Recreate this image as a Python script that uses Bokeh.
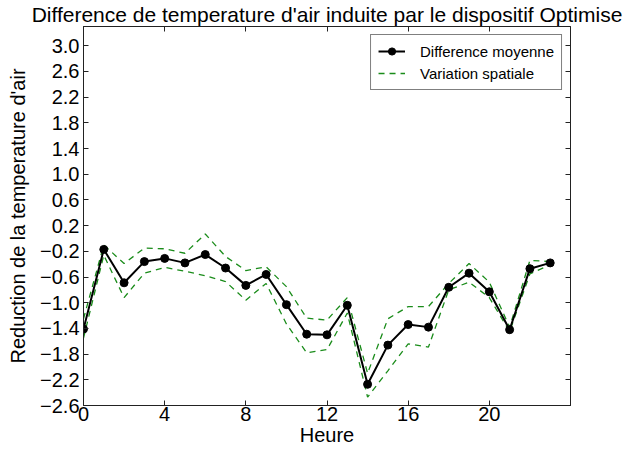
from bokeh.plotting import figure
from bokeh.models import (Range1d, LinearAxis, FixedTicker, CustomJSTickFormatter,
                          Legend, LegendItem, ColumnDataSource)
from bokeh.embed import file_html
from bokeh.resources import INLINE

hours = list(range(24))
moyenne = [-1.41, -0.17, -0.69, -0.36, -0.31, -0.38, -0.25, -0.46, -0.73, -0.56,
           -1.03, -1.49, -1.50, -1.04, -2.27, -1.66, -1.34, -1.38, -0.76, -0.54,
           -0.83, -1.42, -0.47, -0.38]
upper = [-1.25, -0.10, -0.39, -0.15, -0.16, -0.23, 0.07, -0.28, -0.50, -0.44,
         -0.75, -1.24, -1.27, -0.92, -2.10, -1.25, -1.06, -1.06, -0.70, -0.39,
         -0.68, -1.38, -0.34, -0.36]
lower = [-1.55, -0.26, -0.92, -0.54, -0.45, -0.51, -0.58, -0.67, -0.96, -0.70,
         -1.33, -1.78, -1.73, -1.16, -2.47, -2.06, -1.64, -1.69, -0.80, -0.68,
         -0.92, -1.45, -0.55, -0.41]
x_ticks = [0, 4, 8, 12, 16, 20]
y_ticks = [-2.6, -2.2, -1.8, -1.4, -1.0, -0.6, -0.2, 0.2, 0.6, 1.0, 1.4, 1.8, 2.2, 2.6, 3.0]

title_text = "Difference de temperature d'air induite par le dispositif Optimise"
xlabel = "Heure"
ylabel = "Reduction de la temperature d'air"
label_moy = "Difference moyenne"
label_var = "Variation spatiale"

FONT = "Liberation Sans"
MINUS = "\u2212"

src = ColumnDataSource(dict(h=hours, m=moyenne, u=upper, l=lower))

p = figure(frame_width=487, frame_height=379, output_backend="svg", toolbar_location=None,
           x_range=Range1d(0, 24), y_range=Range1d(-2.6, 3.3),
           min_border_left=10, min_border_right=56, min_border_top=23, min_border_bottom=10,
           title=title_text)
p.margin = (0, 0, 0, 4)
p.title.text_font = FONT
p.title.text_font_size = "21px"
p.title.text_font_style = "normal"
p.title.align = "center"
p.title.text_color = "black"
p.title.standoff = 1

p.xgrid.visible = False
p.ygrid.visible = False
p.outline_line_color = "#222222"
p.outline_line_width = 1
p.background_fill_color = "white"
p.border_fill_color = "white"

fmt = CustomJSTickFormatter(code="return tick.toFixed(1).replace('-', '" + MINUS + "');")
xfmt = CustomJSTickFormatter(code="return tick.toFixed(0);")
blank = CustomJSTickFormatter(code="return '';")

def style_axis(ax, show_labels):
    ax.axis_line_color = "#222222"
    ax.major_tick_in = 5
    ax.major_tick_out = 0
    ax.minor_tick_in = 0
    ax.minor_tick_out = 0
    ax.major_tick_line_color = "#222222"
    ax.major_label_text_font = FONT
    ax.major_label_text_color = "black"
    ax.major_label_text_font_size = "20px"
    ax.axis_label_text_font = FONT
    ax.axis_label_text_font_style = "normal"
    ax.axis_label_text_color = "black"
    ax.axis_label_text_font_size = "20px"
    if not show_labels:
        ax.formatter = blank
        ax.major_label_standoff = 0
        ax.axis_label_standoff = 0

xa = p.xaxis[0]
xa.ticker = FixedTicker(ticks=x_ticks)
xa.formatter = xfmt
xa.axis_label = xlabel
style_axis(xa, True)
xa.major_label_standoff = 1
xa.axis_label_standoff = 0

ya = p.yaxis[0]
ya.ticker = FixedTicker(ticks=y_ticks)
ya.formatter = fmt
ya.axis_label = ylabel
style_axis(ya, True)
ya.major_label_standoff = 4
ya.axis_label_standoff = 8

top = LinearAxis(ticker=FixedTicker(ticks=x_ticks))
style_axis(top, False)
p.add_layout(top, "above")
right = LinearAxis(ticker=FixedTicker(ticks=y_ticks))
style_axis(right, False)
p.add_layout(right, "right")

green = "#1a8c1a"
g_upper = p.line("h", "u", source=src, line_color=green, line_width=1.3, line_dash="6 5")
g_lower = p.line("h", "l", source=src, line_color=green, line_width=1.3, line_dash="6 5")
g_line = p.line("h", "m", source=src, line_color="black", line_width=2)
g_pts = p.scatter("h", "m", source=src, size=8, fill_color="black", line_color="black")

legend = Legend(items=[LegendItem(label=label_moy, renderers=[g_line, g_pts]),
                       LegendItem(label=label_var, renderers=[g_upper])],
                location="top_right")
legend.label_text_font = FONT
legend.label_text_font_size = "15px"
legend.label_text_color = "black"
legend.border_line_color = "black"
legend.border_line_width = 1
legend.glyph_width = 27
legend.glyph_height = 18
legend.label_height = 18
legend.spacing = 4
legend.padding = 7
legend.margin = 8
legend.label_standoff = 15
legend.background_fill_alpha = 1
p.add_layout(legend)

open("out.html", "w").write(file_html(p, INLINE))
